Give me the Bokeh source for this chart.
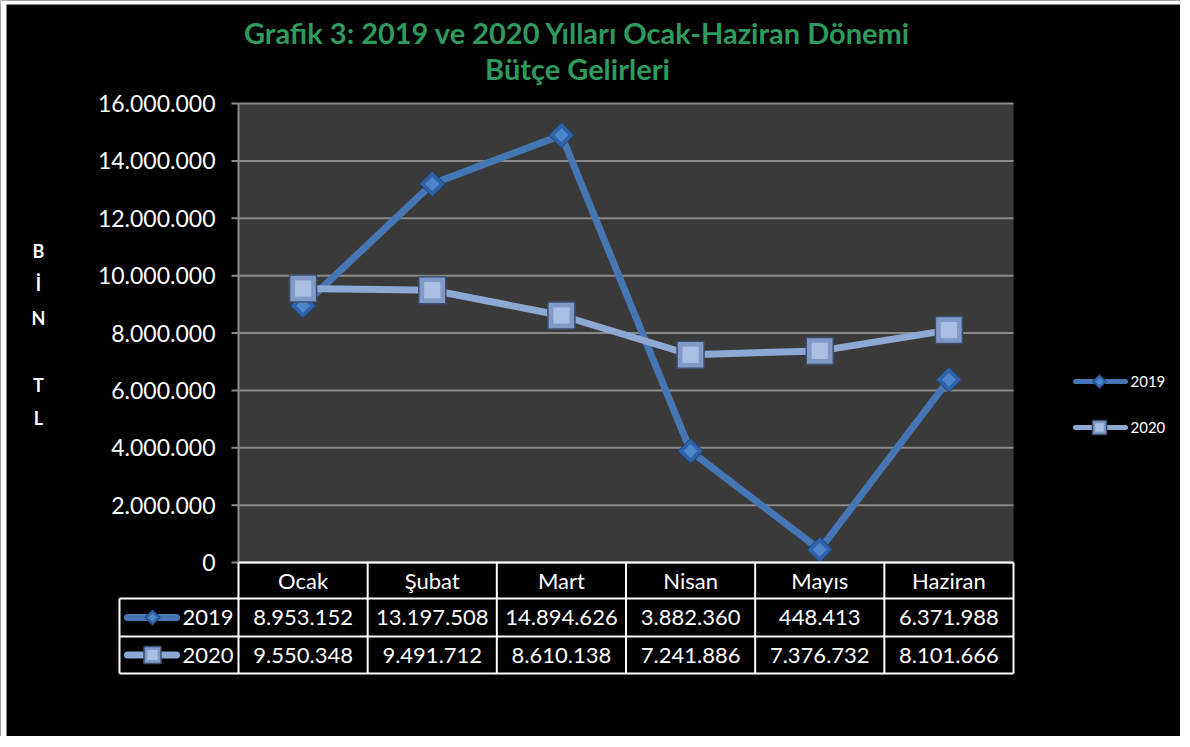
from bokeh.plotting import figure
from bokeh.models import Range1d
from bokeh.core.properties import value
from bokeh.embed import file_html
from bokeh.resources import INLINE

# ---------------- data ----------------
months = ["Ocak", "Şubat", "Mart", "Nisan", "Mayıs", "Haziran"]
series_names = ["2019", "2020"]
values_2019 = [8953152, 13197508, 14894626, 3882360, 448413, 6371988]
values_2020 = [9550348, 9491712, 8610138, 7241886, 7376732, 8101666]
y_ticks = [0, 2000000, 4000000, 6000000, 8000000, 10000000, 12000000, 14000000, 16000000]
title_lines = ["Grafik 3: 2019 ve 2020 Yılları Ocak-Haziran Dönemi", "Bütçe Gelirleri"]
y_label_letters = ["B", "İ", "N", "", "T", "L"]


def fmt(v):
    return f"{v:,}".replace(",", ".")


# ---------------- geometry (reference pixels -> data) ----------------
FIG_W, FIG_H = 1180, 736
ORG = 0
PL, PR, PT, PB = 238, 1013, 103, 562   # plot area in px
CW = (PR - PL) / len(months)           # px per category
VPP = (y_ticks[-1] - y_ticks[0]) / (PB - PT)  # value per px


def X(px):
    return (px - PL) / CW - 0.5


def Y(py):
    return (PB - py) * VPP


p = figure(width=FIG_W, height=FIG_H, output_backend="svg", toolbar_location=None,
           x_range=Range1d(X(ORG), X(ORG + FIG_W)),
           y_range=Range1d(Y(ORG + FIG_H), Y(ORG)),
           min_border=0, outline_line_color=None)
p.axis.visible = False
p.grid.visible = False
p.background_fill_color = "black"
p.border_fill_color = "black"

FONT = value("Lato")
xs = list(range(len(months)))

# white page edge visible in the reference
p.quad(left=[X(0), X(0)], right=[X(6), X(FIG_W)], bottom=[Y(FIG_H), Y(4)], top=[Y(0), Y(0)],
       fill_color="white", line_color=None)

# plot area
p.quad(left=[X(PL)], right=[X(PR)], bottom=[y_ticks[0]], top=[y_ticks[-1]],
       fill_color="#3a3a3a", line_color=None)

# gridlines + tick marks + tick labels
p.segment(x0=[X(PL)] * len(y_ticks), x1=[X(PR)] * len(y_ticks), y0=y_ticks, y1=y_ticks,
          line_color="#8a8a8a", line_width=2)
p.segment(x0=[X(PL - 7)] * len(y_ticks), x1=[X(PL)] * len(y_ticks), y0=y_ticks, y1=y_ticks,
          line_color="#8a8a8a", line_width=2)
p.segment(x0=[X(PL)], x1=[X(PL)], y0=[y_ticks[0]], y1=[y_ticks[-1]],
          line_color="#8a8a8a", line_width=2)
p.text(x=[X(215)] * len(y_ticks), y=y_ticks, text=[fmt(v) for v in y_ticks],
       text_color="white", text_font=FONT, text_font_size="23px",
       text_align="right", text_baseline="middle")

# y label stacked letters
for i, ch in enumerate(y_label_letters):
    if ch:
        p.text(x=[X(38)], y=[Y(250 + i * 33.5)], text=[ch], text_color="white",
               text_font=FONT, text_font_size="18px", text_font_style="bold",
               text_align="center", text_baseline="middle")

# title
for i, t in enumerate(title_lines):
    p.text(x=[X(577)], y=[Y(32 + i * 36)], text=[t], text_color="#2e9a5e",
           text_font=FONT, text_font_size="29px", text_font_style="bold",
           text_align="center", text_baseline="middle")

C19_LINE, C20_LINE = "#4676b4", "#8ea8d4"

# series lines
p.line(xs, values_2019, line_color=C19_LINE, line_width=7, line_join="round")
p.line(xs, values_2020, line_color=C20_LINE, line_width=7, line_join="round")


def diamond_marker(x, y, s=18):
    p.scatter(x, y, marker="square", size=s, angle=0.785398, fill_color="#2f62a6",
              line_color="#1f3f6e", line_width=1)
    p.scatter(x, y, marker="square", size=s * 0.55, angle=0.785398, fill_color="#4d86cc",
              line_color=None)


def square_marker(x, y, s=27):
    p.scatter(x, y, marker="square", size=s, fill_color="#7f9ac6",
              line_color="#3d4d6b", line_width=1.5)
    p.scatter(x, y, marker="square", size=s * 0.6, fill_color="#a9bfe3", line_color=None)


diamond_marker(xs, values_2019)
square_marker(xs, values_2020)

# ---------------- data table ----------------
R0, R1, R2, R3 = PB, 598, 636, 673
TL = 119
col_edges = [PL + i * CW for i in range(len(months) + 1)]
p.segment(x0=[X(PL), X(TL), X(TL), X(TL)], x1=[X(PR)] * 4,
          y0=[Y(R0), Y(R1), Y(R2), Y(R3)], y1=[Y(R0), Y(R1), Y(R2), Y(R3)],
          line_color="white", line_width=2)
p.segment(x0=[X(c) for c in col_edges], x1=[X(c) for c in col_edges],
          y0=[Y(R0)] * len(col_edges), y1=[Y(R3)] * len(col_edges),
          line_color="white", line_width=2)
p.segment(x0=[X(TL)], x1=[X(TL)], y0=[Y(R1)], y1=[Y(R3)], line_color="white", line_width=2)

p.text(x=xs, y=[Y((R0 + R1) / 2)] * len(months), text=months, text_color="white",
       text_font=FONT, text_font_size="22px", text_align="center", text_baseline="middle")
p.text(x=xs, y=[Y((R1 + R2) / 2)] * len(months), text=[fmt(v) for v in values_2019],
       text_color="white", text_font=FONT, text_font_size="22px",
       text_align="center", text_baseline="middle")
p.text(x=xs, y=[Y((R2 + R3) / 2)] * len(months), text=[fmt(v) for v in values_2020],
       text_color="white", text_font=FONT, text_font_size="22px",
       text_align="center", text_baseline="middle")

for (ry, name, col, mk) in [((R1 + R2) / 2, series_names[0], C19_LINE, "d"),
                            ((R2 + R3) / 2, series_names[1], C20_LINE, "s")]:
    p.line([X(127), X(176)], [Y(ry), Y(ry)], line_color=col, line_width=7, line_cap="round")
    if mk == "d":
        diamond_marker([X(152)], [Y(ry)], 11)
    else:
        square_marker([X(152)], [Y(ry)], 17)
    p.text(x=[X(182)], y=[Y(ry)], text=[name], text_color="white", text_font=FONT,
           text_font_size="22px", text_align="left", text_baseline="middle")

# ---------------- legend (right) ----------------
for (ly, name, col, mk) in [(381, series_names[0], C19_LINE, "d"),
                            (427, series_names[1], C20_LINE, "s")]:
    p.line([X(1075), X(1125)], [Y(ly), Y(ly)], line_color=col, line_width=5, line_cap="round")
    if mk == "d":
        diamond_marker([X(1099)], [Y(ly)], 10)
    else:
        square_marker([X(1099)], [Y(ly)], 14)
    p.text(x=[X(1130)], y=[Y(ly)], text=[name], text_color="white", text_font=FONT,
           text_font_size="15px", text_align="left", text_baseline="middle")

open("out.html", "w").write(file_html(p, INLINE))
